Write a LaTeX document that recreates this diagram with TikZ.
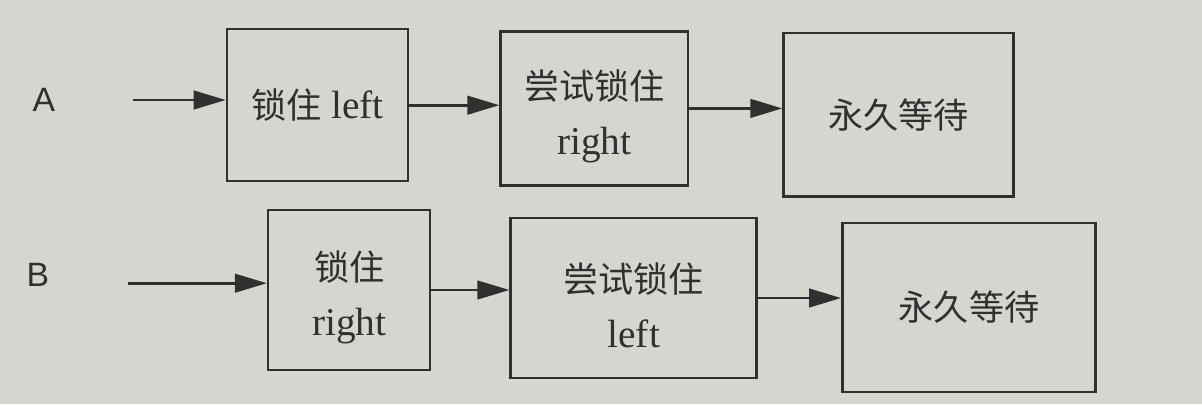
\documentclass[tikz,border=0pt]{standalone}
\usepackage{fontspec}
\setmainfont{Liberation Serif}
\newfontfamily\cjk{Noto Sans CJK SC}
\newfontfamily\labelfont{Liberation Sans}
\newcommand{\zh}[1]{{\cjk\fontsize{25}{39}\selectfont #1}}
\newcommand{\topstrut}{\rule{0pt}{32pt}}
\usetikzlibrary{arrows.meta, positioning}
\definecolor{paper}{RGB}{214,214,209}
\definecolor{ink}{RGB}{48,48,48}
\tikzstyle{arrow} = [draw=ink, line width=2.1pt, -{Triangle[length=8mm, width=4.6mm]}]
\tikzstyle{lockbox} = [
    rectangle, draw=ink, line width=1.8pt, align=center,
    text centered, text=ink, font=\fontsize{28}{39}\selectfont
]
\tikzstyle{rowlabel} = [text=ink, font=\labelfont\fontsize{24}{28}\selectfont]

\begin{document}
\begin{tikzpicture}
\fill[paper] (0,0) rectangle (30.05,-10.1);
\useasboundingbox (0,0) rectangle (30.05,-10.1);

% Linha A
\node (A) [rowlabel] at (1.1,-2.5) {A};
\coordinate (in_A) at (3.33,-2.5);
\node (A_1) [lockbox, minimum width=4.53cm, minimum height=3.8cm] at (7.94,-2.63) {\zh{锁住} left};
\node (A_2) [lockbox, right=2.25cm of A_1, yshift=-0.08cm, minimum width=4.68cm, minimum height=3.85cm] {\topstrut\zh{尝试锁住}\\right};
\node (A_3) [lockbox, right=2.33cm of A_2, yshift=-0.16cm, minimum width=5.75cm, minimum height=4.08cm] {\zh{永久等待}};

% Linha B
\node (B) [rowlabel] at (0.95,-6.88) {B};
\coordinate (in_B) at (3.2,-7.08);
\node (B_1) [lockbox, minimum width=4.05cm, minimum height=4.0cm] at (8.73,-7.25) {\topstrut\zh{锁住}\\right};
\node (B_2) [lockbox, right=1.95cm of B_1, yshift=-0.2cm, minimum width=6.15cm, minimum height=4.0cm] {\topstrut\zh{尝试锁住}\\left};
\node (B_3) [lockbox, right=2.08cm of B_2, yshift=-0.24cm, minimum width=6.33cm, minimum height=4.23cm] {\zh{永久等待}};

% Connections
\draw [arrow] (in_A) -- (in_A -| A_1.west);
\draw [arrow] (A_1.east) -- (A_1.east -| A_2.west);
\draw [arrow] (A_2.east) -- (A_2.east -| A_3.west);
\draw [arrow] (in_B) -- (in_B -| B_1.west);
\draw [arrow] (B_1.east) -- (B_1.east -| B_2.west);
\draw [arrow] (B_2.east) -- (B_2.east -| B_3.west);

\end{tikzpicture}
\end{document}
